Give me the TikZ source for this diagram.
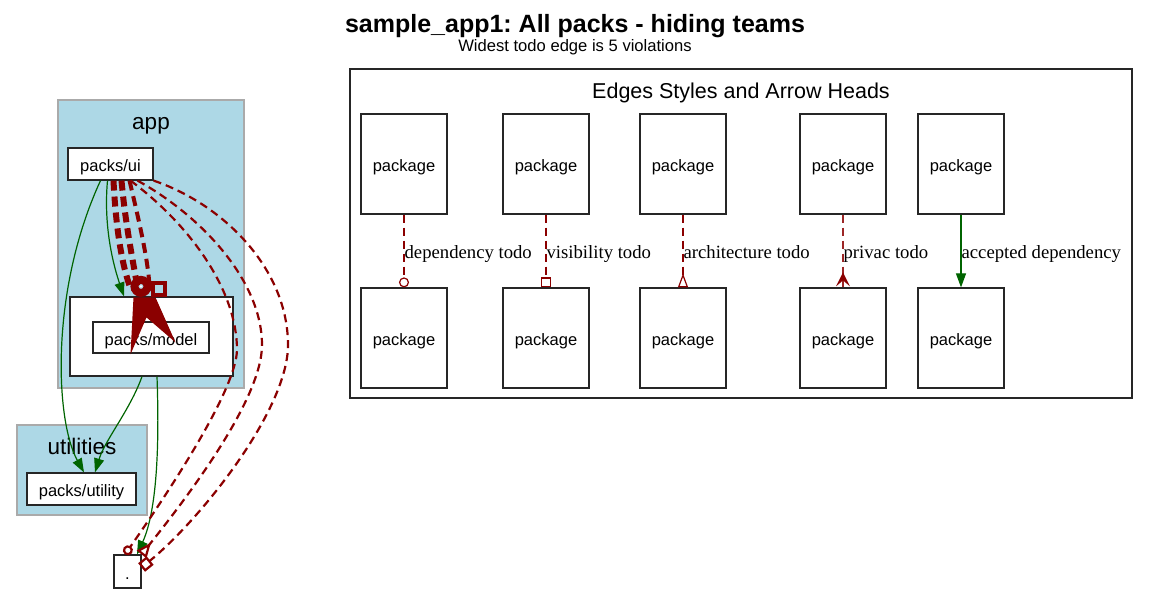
\documentclass[tikz,border=0pt]{standalone}
\usepackage{fontspec}
\setmainfont{Liberation Sans}
\newfontfamily\timesf{Liberation Serif}
\usetikzlibrary{arrows.meta}
\definecolor{lblue}{RGB}{173,216,230}
\definecolor{cgray}{RGB}{170,170,170}
\definecolor{dred}{RGB}{139,0,0}
\definecolor{dgreen}{RGB}{0,100,0}
\frenchspacing
\begin{document}
\begin{tikzpicture}[x=1pt,y=-1pt,
  box/.style={draw=black!85, line width=1.2pt, fill=white, inner sep=0pt, text height=15pt, text depth=0pt, font=\fontsize{16.5}{18}\selectfont},
  pkg/.style={box, minimum width=86pt, minimum height=100pt},
  cluster/.style={draw=cgray, line width=1.1pt, fill=lblue, inner sep=0pt},
  clabel/.style={font=\fontsize{22.5}{25}\selectfont, inner sep=0pt, anchor=base},
  elabel/.style={font=\timesf\fontsize{18.7}{20}\selectfont, inner sep=0pt, anchor=base west, yshift=-7.3pt},
  todo/.style={draw=dred, line width=1.2pt, dash pattern=on 8pt off 5pt},
  todothick/.style={draw=dred, line width=2.2pt, dash pattern=on 8pt off 5pt},
  heavy/.style={draw=dred, line width=6pt, dash pattern=on 10pt off 6pt},
  ok/.style={draw=dgreen, line width=1.2pt, -{Triangle[length=14pt,width=10pt]}},
]
\useasboundingbox (0,0) rectangle (1150,593);

% titles
\node[font=\bfseries\fontsize{25}{28}\selectfont, inner sep=0pt, anchor=base] (title) at (575,33) {sample\_app1: All packs - hiding teams};
\node[font=\fontsize{16.6}{18}\selectfont, inner sep=0pt, anchor=base] (sub) at (575,51.3) {Widest todo edge is 5 violations};

% clusters and nodes
\node[cluster, minimum width=186pt, minimum height=288pt] (app) at (151,244) {};
\node[clabel] (applbl) at (151,129.3) {app};
\node[box, minimum width=163pt, minimum height=79pt] (mcl) at (151.5,336.5) {};
\node[box, minimum width=116pt, minimum height=31pt] (model) at (151,337.5) {packs/model};
\node[box, minimum width=85pt, minimum height=32pt] (ui) at (110.5,164) {packs/ui};
\node[cluster, minimum width=130pt, minimum height=90pt] (utilities) at (82,470) {};
\node[clabel] (utillbl) at (82,454.3) {utilities};
\node[box, minimum width=109pt, minimum height=32pt] (util) at (81.5,489) {packs/utility};
\node[box, minimum width=27pt, minimum height=33pt] (dot) at (127.5,571.5) {.};

% legend
\node[draw=black!85, line width=1.1pt, minimum width=782pt, minimum height=329pt, inner sep=0pt] (legend) at (741,233.5) {};
\node[font=\fontsize{21.5}{24}\selectfont, inner sep=0pt, anchor=base] (legtitle) at (741,98.5) {Edges Styles and Arrow Heads};
\foreach \i/\x in {1/404,2/546,3/683,4/843,5/961} {
  \node[pkg] (u\i) at (\x,164) {package};
  \node[pkg] (l\i) at (\x,338) {package};
}
\draw[todo, -{Circle[open,length=10pt,width=10pt]}] (u1) -- node[elabel]{dependency todo} (l1);
\draw[todo, -{Square[open,length=10pt,width=10pt]}] (u2) -- node[elabel]{visibility todo} (l2);
\draw[todo, -{Triangle[open,reversed,length=14pt,width=10pt]}] (u3) -- node[elabel]{architecture todo} (l3);
\draw[todo, draw=dred!85] (u4) -- node[elabel]{privac todo} (l4);
\fill[dred] ([xshift=-7pt,yshift=1pt]l4.north) -- ++(7,-14) -- ++(7,14) -- ++(-7,-6) -- cycle;
\draw[ok] (u5) -- node[elabel]{accepted dependency} (l5);

% accepted dependencies
\draw[ok] ([xshift=-3pt]ui.south) .. controls (103,230) and (115,270) .. ([xshift=-27.5pt]mcl.north);
\draw[ok] ([xshift=-10pt]ui.south) .. controls (50,290) and (55,420) .. ([xshift=2.5pt]util.north);
\draw[ok] ([xshift=-9.5pt]mcl.south) .. controls (130,410) and (105,440) .. ([xshift=13.5pt]util.north);
\draw[ok] ([xshift=5.5pt]mcl.south) .. controls (160,460) and (155,515) .. ([xshift=9.5pt]dot.north);

% todo edges packs/ui -> .
\draw[todothick, -{Circle[open,length=10pt,width=10pt]}] ([xshift=20pt]ui.south) .. controls (190,225) and (237,290) .. (237,350) .. controls (236,390) and (170,490) .. ([xshift=-2.5pt]dot.north);
\draw[todothick, -{Triangle[open,reversed,length=15pt,width=12pt]}] ([xshift=27pt]ui.south) .. controls (200,215) and (262,280) .. (262,345) .. controls (262,400) and (185,500) .. (dot.north east);
\draw[todothick, -{Square[open,length=11pt,width=11pt]}] (ui.south east) .. controls (225,205) and (288,270) .. (288,345) .. controls (288,410) and (200,520) .. ([yshift=4pt]dot.east);

% heavy todo edge packs/ui -> packs/model
\draw[heavy] ([xshift=3pt]ui.south) .. controls (116,230) and (122,265) .. ([xshift=-21pt,yshift=8pt]mcl.north);
\draw[heavy] ([xshift=11pt]ui.south) .. controls (126,230) and (134,265) .. ([xshift=-14pt,yshift=8pt]mcl.north);
\draw[heavy, line width=4pt] ([xshift=19pt]ui.south) .. controls (140,225) and (148,260) .. ([xshift=-2pt,yshift=10pt]mcl.north);
\fill[dred] ([xshift=-18pt,yshift=-1pt]mcl.north) -- ++(-3,57) -- ++(16,-37) -- ++(29,25) -- ++(-20,-45) -- cycle;
\draw[dred, line width=8pt] ([xshift=-10.5pt,yshift=10pt]mcl.north) circle (6.5pt);
\fill[white] ([xshift=-10.5pt,yshift=10pt]mcl.north) circle (1.2pt);
\draw[dred, line width=4pt] ([xshift=1.5pt,yshift=13pt]mcl.north) rectangle ++(12,12);
\end{tikzpicture}
\end{document}
